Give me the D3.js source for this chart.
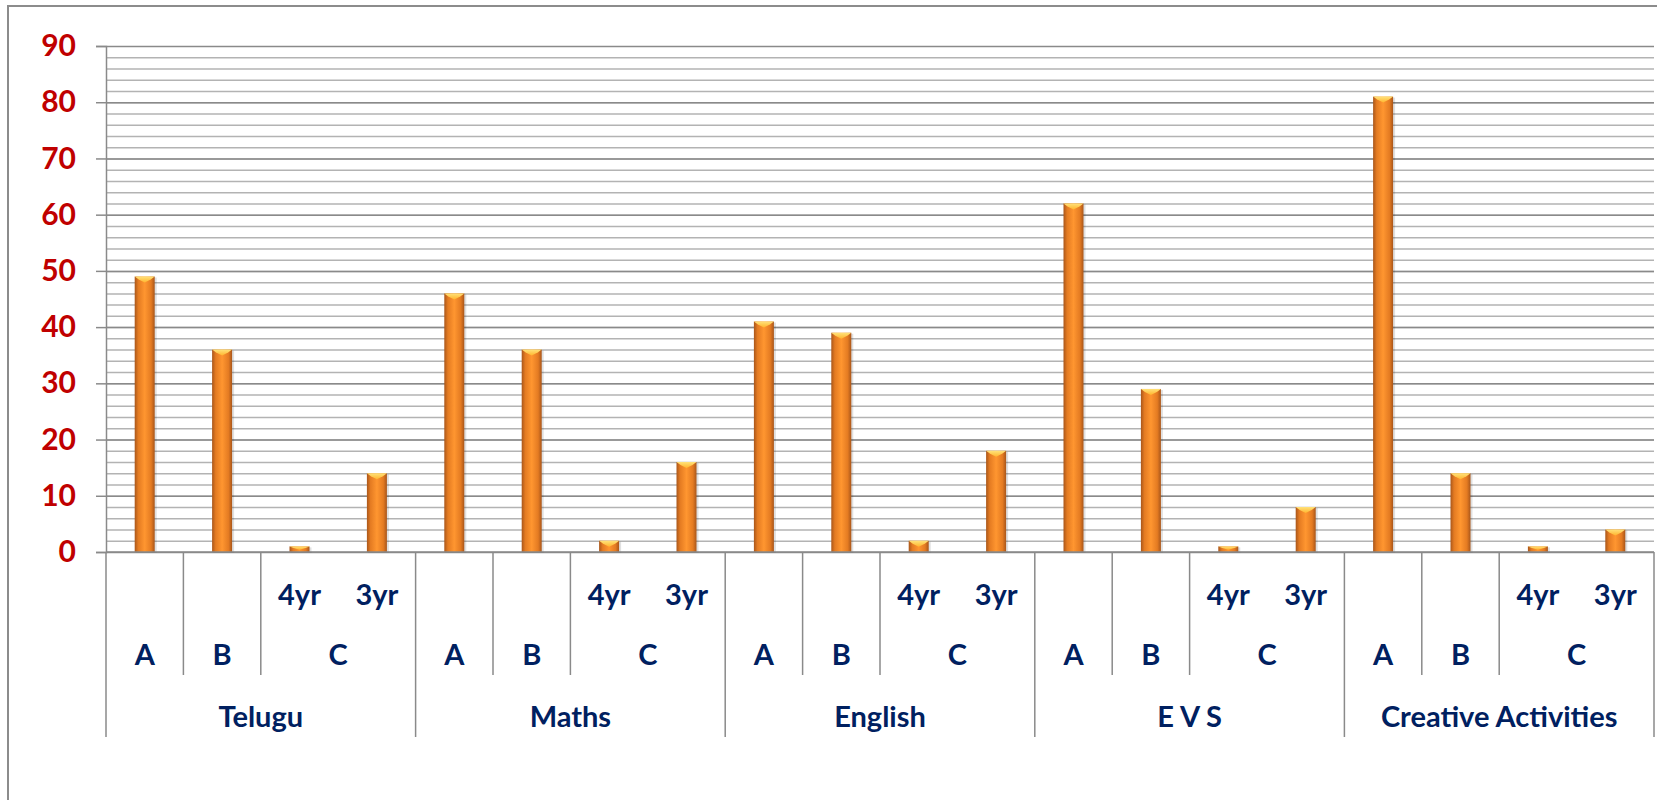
<!DOCTYPE html>
<html>
<head>
<meta charset="utf-8">
<script src="https://cdn.jsdelivr.net/npm/d3@7"></script>
<style>
  body { margin: 0; background: #fff; }
  svg { display: block; font-family: Lato, "Open Sans", sans-serif; }
</style>
</head>
<body>
<div class="vis-bars"></div>
<script>
// data
const subjects = ["Telugu", "Maths", "English", "E V S", "Creative Activities"];
const grades = ["A", "B", "C"];
const cLevels = ["4yr", "3yr"];
const gradeA = [49, 46, 41, 62, 81];
const gradeB = [36, 36, 39, 29, 14];
const gradeC4yr = [1, 2, 2, 1, 1];
const gradeC3yr = [14, 16, 18, 8, 4];
const yTicks = [0, 10, 20, 30, 40, 50, 60, 70, 80, 90];

const W = 1657, H = 800;
const plot = {left: 106, right: 1654, top: 46, bottom: 552};

// one entry per bar slot
let leaves = [];
subjects.forEach(function(s, i){
    leaves.push({subject: s, grade: "A", sub: "", value: gradeA[i]});
    leaves.push({subject: s, grade: "B", sub: "", value: gradeB[i]});
    leaves.push({subject: s, grade: "C", sub: cLevels[0], value: gradeC4yr[i]});
    leaves.push({subject: s, grade: "C", sub: cLevels[1], value: gradeC3yr[i]});
});
leaves.forEach(function(d){ d.key = d.subject + "|" + d.grade + "|" + d.sub; });

let svg = d3.select(".vis-bars")
    .append("svg")
    .attr("width", W)
    .attr("height", H);

// outer chart border
svg.append("rect")
    .attr("x", 8).attr("y", 6)
    .attr("width", 1700).attr("height", 900)
    .attr("fill", "none")
    .attr("stroke", "#8c8c8c")
    .attr("stroke-width", 2);

let xScale = d3.scaleBand()
    .domain(leaves.map(d => d.key))
    .range([plot.left, plot.right]);

let yScale = d3.scaleLinear()
    .domain([0, 90])
    .range([plot.bottom, plot.top]);

// minor grid every 2
svg.append("g")
    .attr("transform", "translate(" + plot.left + ",0)")
    .call(d3.axisLeft(yScale).tickValues(d3.range(2, 90, 2)).tickSize(-(plot.right - plot.left)).tickFormat(""))
    .call(g => g.select(".domain").remove())
    .selectAll("line")
    .attr("stroke", "#b3b3b3")
    .attr("stroke-width", 1.5);

// major grid every 10
svg.append("g")
    .attr("transform", "translate(" + plot.left + ",0)")
    .call(d3.axisLeft(yScale).tickValues(yTicks).tickSize(-(plot.right - plot.left)).tickFormat(""))
    .call(g => g.select(".domain").remove())
    .selectAll("line")
    .attr("stroke", "#8a8a8a")
    .attr("stroke-width", 1.5);

// y axis with labels
let yAxis = svg.append("g")
    .attr("transform", "translate(" + plot.left + ",0)")
    .call(d3.axisLeft(yScale).tickValues(yTicks).tickSize(10).tickPadding(20));
yAxis.select(".domain").attr("stroke", "#8a8a8a").attr("stroke-width", 1.5);
yAxis.selectAll("line").attr("stroke", "#8a8a8a").attr("stroke-width", 1.5);
yAxis.selectAll("text")
    .attr("fill", "#c00000")
    .style("font-size", "30px")
    .style("font-weight", "bold")
    .style("font-family", "Lato, sans-serif");

// bar gradient
let defs = svg.append("defs");
let grad = defs.append("linearGradient").attr("id", "barGrad")
    .attr("x1", "0%").attr("x2", "100%").attr("y1", "0%").attr("y2", "0%");
[["0%", "#a9561a"], ["18%", "#e47b22"], ["50%", "#ff9630"], ["82%", "#e47b22"], ["100%", "#a9561a"]]
    .forEach(s => grad.append("stop").attr("offset", s[0]).attr("stop-color", s[1]));
let capGrad = defs.append("linearGradient").attr("id", "capGrad")
    .attr("x1", "0%").attr("x2", "0%").attr("y1", "0%").attr("y2", "100%");
capGrad.append("stop").attr("offset", "0%").attr("stop-color", "#ffe27a");
capGrad.append("stop").attr("offset", "100%").attr("stop-color", "#ffb52e");

const barW = 20;
let bars = svg.selectAll(".bar")
    .data(leaves)
    .enter()
    .append("g")
    .attr("class", "bar");

// soft shadow
bars.append("rect")
    .attr("x", d => xScale(d.key) + xScale.bandwidth() / 2 - barW / 2 + 1)
    .attr("y", d => yScale(d.value) + 1)
    .attr("width", barW + 1)
    .attr("height", d => yScale(0) - yScale(d.value))
    .attr("fill", "#000")
    .attr("opacity", 0.12);

bars.append("rect")
    .attr("x", d => xScale(d.key) + xScale.bandwidth() / 2 - barW / 2)
    .attr("y", d => yScale(d.value))
    .attr("width", barW)
    .attr("height", d => yScale(0) - yScale(d.value))
    .attr("fill", "url(#barGrad)");

// bevel on the top
bars.append("path")
    .attr("d", function(d){
        let x0 = xScale(d.key) + xScale.bandwidth() / 2 - barW / 2;
        let y0 = yScale(d.value);
        let h = Math.min(6, (yScale(0) - y0) * 0.6);
        return "M" + x0 + "," + y0 + "L" + (x0 + barW) + "," + y0 +
            "L" + (x0 + barW - 4) + "," + (y0 + h * 0.5) +
            "L" + (x0 + barW / 2) + "," + (y0 + h) +
            "L" + (x0 + 4) + "," + (y0 + h * 0.5) + "Z";
    })
    .attr("fill", "url(#capGrad)");

// category axis: multi level
let cat = svg.append("g").attr("class", "cat-axis");
const rowSub = 595, rowGrade = 655, rowSubject = 717;
const gradeLineEnd = 675, subjectLineEnd = 737;
const lineColor = "#8a8a8a";
const textColor = "#002060";

cat.append("line")
    .attr("x1", plot.left).attr("x2", plot.right)
    .attr("y1", plot.bottom).attr("y2", plot.bottom)
    .attr("stroke", lineColor).attr("stroke-width", 1.5);

let slot = xScale.bandwidth();
let catText = function(x, y, t){
    cat.append("text")
        .attr("x", x).attr("y", y)
        .attr("dy", "0.36em")
        .attr("text-anchor", "middle")
        .attr("fill", textColor)
        .style("font-size", "29px")
        .style("font-weight", "bold")
        .text(t);
};

subjects.forEach(function(s){
    let keys = leaves.filter(d => d.subject === s);
    let x0 = xScale(keys[0].key);
    let x1 = xScale(keys[keys.length - 1].key) + slot;
    // subject boundaries
    cat.append("line")
        .attr("x1", x0).attr("x2", x0)
        .attr("y1", plot.bottom).attr("y2", subjectLineEnd)
        .attr("stroke", lineColor).attr("stroke-width", 1.5);
    catText((x0 + x1) / 2, rowSubject, s);

    grades.forEach(function(g, gi){
        let gk = keys.filter(d => d.grade === g);
        let gx0 = xScale(gk[0].key);
        let gx1 = xScale(gk[gk.length - 1].key) + slot;
        if(gi > 0){
            cat.append("line")
                .attr("x1", gx0).attr("x2", gx0)
                .attr("y1", plot.bottom).attr("y2", gradeLineEnd)
                .attr("stroke", lineColor).attr("stroke-width", 1.5);
        }
        catText((gx0 + gx1) / 2, rowGrade, g);
        gk.forEach(function(d){
            if(d.sub !== "") catText(xScale(d.key) + slot / 2, rowSub, d.sub);
        });
    });
});
cat.append("line")
    .attr("x1", plot.right).attr("x2", plot.right)
    .attr("y1", plot.bottom).attr("y2", subjectLineEnd)
    .attr("stroke", lineColor).attr("stroke-width", 1.5);
</script>
</body>
</html>
